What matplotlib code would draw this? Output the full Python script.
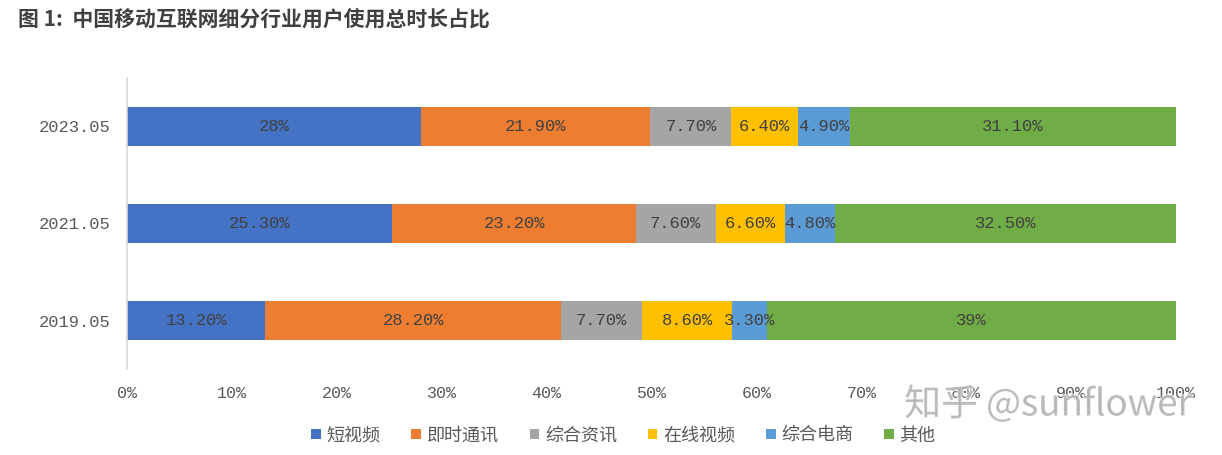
import matplotlib
matplotlib.use("Agg")
import matplotlib.pyplot as plt
from matplotlib.patches import Patch
import matplotlib.patheffects as pe

plt.rcParams['font.family'] = ['Liberation Mono', 'Noto Sans CJK SC', 'DejaVu Sans']

periods = ["2019.05", "2021.05", "2023.05"]
segments = ["短视频", "即时通讯", "综合资讯", "在线视频", "综合电商", "其他"]
values = {
    "短视频":   [13.2, 25.3, 28.0],
    "即时通讯": [28.2, 23.2, 21.9],
    "综合资讯": [7.7, 7.6, 7.7],
    "在线视频": [8.6, 6.6, 6.4],
    "综合电商": [3.3, 4.8, 4.9],
    "其他":     [39.0, 32.5, 31.1],
}
colors = ["#4472C4", "#ED7D31", "#A5A5A5", "#FFC000", "#5B9BD5", "#70AD47"]
xticks = [0, 10, 20, 30, 40, 50, 60, 70, 80, 90, 100]
title = "图 1:  中国移动互联网细分行业用户使用总时长占比"

fig = plt.figure(figsize=(12.22, 4.55), dpi=100)
ax = fig.add_axes([0.1039, 0.189, 0.8585, 0.6396])

ypos = list(range(len(periods)))
left = [0.0] * len(periods)
for seg, col in zip(segments, colors):
    vals = values[seg]
    ax.barh(ypos, vals, left=left, height=0.4, color=col, edgecolor='none')
    for y, l, v in zip(ypos, left, vals):
        lab = f"{int(v)}%" if float(v).is_integer() else f"{v:.2f}%"
        ax.text(l + v / 2, y, lab, ha='center', va='center', fontsize=12.3,
                color='#404040')
    left = [a + b for a, b in zip(left, vals)]

ax.set_xlim(0, 100)
ax.set_ylim(-0.5, 2.5)
ax.set_yticks(ypos)
ax.set_yticklabels(periods, fontsize=12.3, color='#595959')
ax.set_xticks(xticks)
ax.set_xticklabels([f"{t}%" for t in xticks], fontsize=12, color='#595959')
ax.tick_params(axis='both', length=0)
ax.tick_params(axis='x', pad=12)
ax.tick_params(axis='y', pad=12)
for s in ['top', 'right', 'bottom']:
    ax.spines[s].set_visible(False)
ax.spines['left'].set_color('#D9D9D9')
ax.spines['left'].set_linewidth(1.2)

handles = [Patch(facecolor=c, edgecolor='none') for c in colors]
fig.legend(handles, segments, loc='center', bbox_to_anchor=(0.51, 0.042),
           ncol=6, frameon=False, fontsize=13, handlelength=0.55,
           handleheight=0.55, handletextpad=0.3, columnspacing=1.7,
           labelcolor='#595959')

fig.text(0.015, 0.955, title, fontsize=15, fontweight='bold', color='#404040',
         ha='left', va='center', family=['Noto Sans CJK SC', 'DejaVu Sans'])

fig.text(0.74, 0.11, "知乎 @sunflower", fontsize=26.5, color='#a0a0a0', alpha=0.6,
         ha='left', va='center', family=['Noto Sans CJK SC', 'DejaVu Sans'],
         path_effects=[pe.withStroke(linewidth=2, foreground='white', alpha=0.6)])

fig.savefig("out.png", dpi=100)
